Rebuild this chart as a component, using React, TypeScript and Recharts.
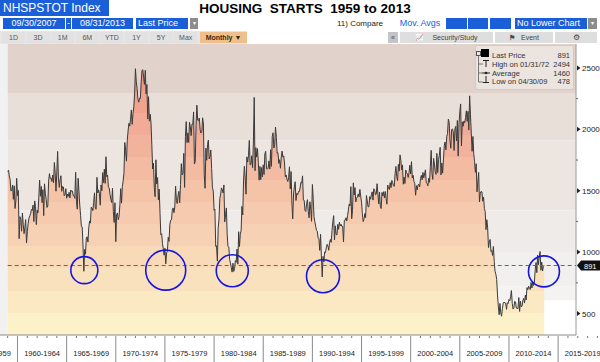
import React from 'react';
import { ComposedChart, Area, XAxis, YAxis, ReferenceArea, ReferenceLine, ReferenceDot } from 'recharts';

// ---------- DATA ----------
const startYear = 1959;
// Monthly housing starts (thousands, SAAR), Jan 1959 .. Aug 2013
const housingStarts: number[] = [
  1657, 1667, 1620, 1590, 1498, 1503, 1547, 1430, 1540, 1355, 1416, 1601, // 1959
  1460, 1503, 1109, 1289, 1266, 1170, 1318, 1227, 1150, 1202, 1265, 1074, // 1960
  1166, 1232, 1277, 1295, 1313, 1347, 1340, 1383, 1249, 1417, 1372, 1224, // 1961
  1342, 1320, 1443, 1586, 1455, 1535, 1403, 1509, 1297, 1556, 1479, 1430, // 1962
  1364, 1375, 1578, 1639, 1601, 1603, 1575, 1628, 1565, 1730, 1648, 1496, // 1963
  1654, 1820, 1603, 1527, 1589, 1622, 1495, 1535, 1531, 1459, 1469, 1517, // 1964
  1439, 1473, 1454, 1487, 1441, 1506, 1495, 1497, 1461, 1460, 1438, 1650, // 1965
  1412, 1350, 1602, 1498, 1384, 1300, 1209, 1205, 1049, 844, 1022, 983,   // 1966
  1116, 1125, 1082, 1198, 1254, 1236, 1365, 1360, 1338, 1405, 1483, 1354, // 1967
  1349, 1609, 1482, 1507, 1478, 1382, 1547, 1500, 1648, 1566, 1675, 1560, // 1968
  1777, 1615, 1627, 1528, 1523, 1468, 1427, 1404, 1520, 1330, 1242, 1402, // 1969
  1085, 1305, 1319, 1264, 1290, 1385, 1517, 1399, 1534, 1580, 1647, 1893, // 1970
  1828, 1741, 1910, 1986, 2049, 2026, 2083, 2158, 2041, 2128, 2182, 2295, // 1971
  2494, 2390, 2334, 2249, 2221, 2254, 2252, 2382, 2481, 2485, 2421, 2366, // 1972
  2481, 2289, 2365, 2084, 2266, 2067, 2123, 2051, 1874, 1677, 1724, 1526, // 1973
  1451, 1752, 1555, 1607, 1426, 1513, 1316, 1142, 1150, 1070, 1026, 975,  // 1974
  1032, 904, 993, 1005, 1121, 1087, 1226, 1260, 1264, 1344, 1360, 1321,   // 1975
  1367, 1538, 1421, 1395, 1459, 1495, 1401, 1550, 1720, 1629, 1641, 1804, // 1976
  1527, 1943, 2063, 1892, 1971, 1893, 2058, 2020, 1949, 2042, 2042, 2142, // 1977
  1718, 1738, 2032, 2197, 2075, 2070, 2092, 1996, 1970, 1981, 2094, 2044, // 1978
  1630, 1520, 1847, 1748, 1876, 1913, 1760, 1778, 1832, 1681, 1524, 1498, // 1979
  1341, 1350, 1047, 1051, 927, 1196, 1269, 1436, 1471, 1523, 1510, 1482,  // 1980
  1547, 1246, 1306, 1360, 1140, 1045, 1041, 940, 911, 873, 837, 910,      // 1981
  843, 866, 931, 917, 1025, 902, 1166, 1046, 1144, 1173, 1372, 1303,      // 1982
  1586, 1699, 1606, 1472, 1776, 1733, 1785, 1910, 1710, 1715, 1785, 1688, // 1983
  1897, 2260, 1663, 1851, 1774, 1843, 1732, 1586, 1698, 1590, 1689, 1612, // 1984
  1711, 1632, 1800, 1821, 1680, 1676, 1684, 1743, 1676, 1834, 1698, 1942, // 1985
  1972, 1848, 1876, 2019, 1934, 1806, 1810, 1723, 1753, 1683, 1776, 1823, // 1986
  1774, 1784, 1726, 1614, 1628, 1594, 1575, 1605, 1695, 1515, 1656, 1400, // 1987
  1271, 1473, 1532, 1573, 1421, 1478, 1467, 1493, 1492, 1522, 1569, 1563, // 1988
  1621, 1425, 1422, 1339, 1331, 1397, 1427, 1332, 1279, 1410, 1351, 1251, // 1989
  1551, 1437, 1289, 1248, 1212, 1177, 1171, 1115, 1110, 1014, 1145, 969,  // 1990
  798, 965, 921, 1001, 996, 1036, 1063, 1049, 1015, 1079, 1103, 1079,     // 1991
  1176, 1250, 1297, 1099, 1214, 1145, 1139, 1226, 1186, 1244, 1214, 1227, // 1992
  1210, 1210, 1083, 1258, 1260, 1280, 1254, 1300, 1343, 1392, 1376, 1533, // 1993
  1272, 1337, 1564, 1465, 1526, 1409, 1439, 1450, 1474, 1450, 1511, 1455, // 1994
  1407, 1316, 1249, 1267, 1314, 1281, 1461, 1416, 1369, 1369, 1452, 1431, // 1995
  1467, 1491, 1424, 1516, 1504, 1467, 1472, 1557, 1475, 1392, 1489, 1370, // 1996
  1355, 1486, 1457, 1492, 1442, 1494, 1437, 1390, 1546, 1520, 1510, 1566, // 1997
  1525, 1584, 1567, 1540, 1536, 1641, 1698, 1614, 1582, 1715, 1660, 1792, // 1998
  1748, 1670, 1710, 1553, 1611, 1559, 1669, 1648, 1635, 1608, 1648, 1708, // 1999
  1636, 1737, 1604, 1626, 1575, 1559, 1463, 1541, 1507, 1549, 1551, 1532, // 2000
  1600, 1625, 1590, 1649, 1605, 1636, 1670, 1567, 1562, 1540, 1602, 1568, // 2001
  1698, 1829, 1642, 1592, 1764, 1717, 1655, 1633, 1804, 1648, 1753, 1788, // 2002
  1853, 1629, 1726, 1643, 1751, 1867, 1897, 1833, 1939, 1967, 2083, 2057, // 2003
  1911, 1846, 1998, 2003, 1981, 1828, 2002, 2024, 1905, 2072, 1782, 2042, // 2004
  2144, 2207, 1864, 2061, 2025, 2068, 2054, 2095, 2151, 2065, 2147, 1994, // 2005
  2273, 2119, 1969, 1821, 1942, 1802, 1737, 1650, 1720, 1491, 1570, 1649, // 2006
  1409, 1480, 1495, 1490, 1415, 1448, 1354, 1330, 1183, 1264, 1197, 1037, // 2007
  1084, 1103, 1005, 1013, 973, 1046, 923, 844, 820, 777, 652, 560,        // 2008
  490, 582, 505, 478, 540, 585, 594, 586, 585, 534, 588, 581,             // 2009
  614, 604, 636, 687, 583, 536, 546, 599, 594, 543, 545, 539,             // 2010
  630, 517, 600, 554, 561, 608, 623, 585, 650, 610, 711, 694,             // 2011
  723, 704, 695, 753, 708, 757, 728, 750, 854, 915, 833, 976,             // 2012
  898, 969, 1005, 852, 919, 846, 883, 891,                                // 2013
];

const lastPrice = 891;
const legendLabels = ['Last Price', 'High on 01/31/72', 'Average', 'Low on 04/30/09'];
const legendValues = ['891', '2494', '1460', '478'];

const yMajorTicks = [500, 1000, 1500, 2000, 2500];
const yMinorTicks = [750, 1250, 1750, 2250];
const blockStartYears = [1955, 1960, 1965, 1970, 1975, 1980, 1985, 1990, 1995, 2000, 2005, 2010, 2015];

const troughTimes = [1966.8, 1975.08, 1981.85, 1991.08, 2013.56];
const troughValues = [853, 853, 848, 804, 843];

const bandFrom = [2290, 1910, 1340, 1000, 720, 608, 325];
const bandTo = [2695, 2290, 1910, 1340, 1000, 720, 608];

const rangeButtons = ['1D', '3D', '1M', '6M', 'YTD', '1Y', '5Y', 'Max'];

// ---------- STYLE ----------
const X_DOMAIN: [number, number] = [1958.22, 2016.82];
const Y_DOMAIN: [number, number] = [325, 2695];
const bandColors = ['#e1d3cb', '#e8dfd8', '#ece5e0', '#efebe8', '#f2f0ee', '#f4f3f1', '#f8f7f5'];
const troughRadii = [13.5, 20, 16, 16.5, 15.5];
const fillSteps = ['#ef9a88', '#f0a38f', '#f1ab96', '#f2b39c', '#f3bba2', '#f4c3a8', '#f5caae', '#f6d1b3', '#f8d9b8', '#fae1bd', '#fbe9c3', '#fdf1ca'];
const BLUE = '#1b5fd8';
const FONT = '"Liberation Sans", Arial, sans-serif';

const data = housingStarts.map((v, i) => ({ t: startYear + i / 12, v }));
const lastT = data[data.length - 1].t;

const xTicks: number[] = [];
for (let y = 1955; y <= 2019; y++) xTicks.push(y);
blockStartYears.forEach((b) => xTicks.push(b + 2.5));
xTicks.sort((a, b) => a - b);

const XTick = (props: any) => {
  const { x, y, payload } = props;
  const v = payload.value as number;
  if (!Number.isInteger(v)) {
    const s = v - 2.5;
    return (
      <text x={x} y={y + 21} textAnchor="middle" fontSize={7.5} fontFamily={FONT} fill="#222">
        {`${s}-${s + 4}`}
      </text>
    );
  }
  if (v % 5 === 0) {
    return <line x1={x} x2={x} y1={y + 1} y2={y + 27} stroke="#8a8a8a" strokeWidth={1} />;
  }
  return <line x1={x} x2={x} y1={y + 1} y2={y + 3} stroke="#777" strokeWidth={1} />;
};

const YTick = (props: any) => {
  const { x, y, payload } = props;
  const v = payload.value as number;
  if (v % 500 === 0) {
    return (
      <g>
        <path d={`M${x + 1},${y - 2.5}L${x + 4.5},${y}L${x + 1},${y + 2.5}Z`} fill="#222" />
        <text x={x + 6} y={y + 3} fontSize={8} fontFamily={FONT} fill="#222">{v}</text>
      </g>
    );
  }
  return <line x1={x} x2={x + 2} y1={y} y2={y} stroke="#666" strokeWidth={1} />;
};

const PriceTag = (props: any) => {
  const { cx, cy } = props;
  return (
    <g>
      <path d={`M${cx + 1},${cy}L${cx + 5},${cy - 5}L${cx + 24},${cy - 5}L${cx + 24},${cy + 5}L${cx + 5},${cy + 5}Z`} fill="#111" />
      <text x={cx + 8} y={cy + 3} fontSize={7.5} fontFamily={FONT} fill="#fff">{lastPrice}</text>
    </g>
  );
};

const Box = ({ left, top, width, height, bg, color = '#fff', children, fs = 9, align = 'center', bold = false }: any) => (
  <div
    style={{
      position: 'absolute', left, top, width, height, background: bg, color,
      fontFamily: FONT, fontSize: fs, lineHeight: `${height}px`, textAlign: align,
      overflow: 'hidden', whiteSpace: 'nowrap', fontWeight: bold ? 'bold' : 'normal', boxSizing: 'border-box',
    }}
  >
    {children}
  </div>
);

export default function App() {
  return (
    <div style={{ position: 'absolute', left: 0, top: 0, width: 600, height: 362, background: '#fff', overflow: 'hidden' }}>
      {/* Header row 1 */}
      <Box left={0} top={0} width={109} height={16} bg={BLUE} fs={12} align="left">
        <span style={{ paddingLeft: 3 }}>NHSPSTOT Index</span>
      </Box>
      <div style={{ position: 'absolute', left: 180, top: 1, width: 250, textAlign: 'center', fontFamily: FONT, fontWeight: 'bold', fontSize: 13.5, color: '#000', whiteSpace: 'pre' }}>
        HOUSING  STARTS  1959 to 2013
      </div>
      {/* Header row 2 */}
      <Box left={3} top={18} width={62} height={11} bg={BLUE} fs={9}>09/30/2007</Box>
      <Box left={66} top={18} width={5} height={11} bg={BLUE} fs={9}>-</Box>
      <Box left={72} top={18} width={61} height={11} bg={BLUE} fs={9}>08/31/2013</Box>
      <Box left={136} top={18} width={52} height={11} bg={BLUE} fs={9} align="left"><span style={{ paddingLeft: 2 }}>Last Price</span></Box>
      <Box left={190} top={18} width={8} height={11} bg="#8c8c8c" fs={6}>▾</Box>
      <Box left={330} top={18} width={60} height={11} bg="transparent" color="#222" fs={8}>11) Compare</Box>
      <Box left={396} top={18} width={48} height={11} bg="transparent" color={BLUE} fs={9}>Mov. Avgs</Box>
      <Box left={446} top={18} width={21} height={11} bg={BLUE}>{''}</Box>
      <Box left={468} top={18} width={20} height={11} bg={BLUE}>{''}</Box>
      <Box left={490} top={18} width={21} height={11} bg={BLUE}>{''}</Box>
      <Box left={515} top={18} width={72} height={11} bg={BLUE} fs={9} align="left"><span style={{ paddingLeft: 2 }}>No Lower Chart</span></Box>
      <Box left={588} top={18} width={9} height={11} bg="#8c8c8c" fs={6}>▾</Box>
      {/* Header row 3 */}
      <div style={{ position: 'absolute', left: 0, top: 31, width: 247, height: 13, background: '#e6e6e6' }} />
      {rangeButtons.map((b, i) => (
        <Box key={b} left={2 + i * 24.6} top={32} width={23} height={11} bg="#e2e2e2" color="#555" fs={7}>{b}</Box>
      ))}
      <Box left={200} top={32} width={47} height={11} bg="#f0c08c" color="#3a2a10" fs={7} bold>Monthly ▼</Box>
      <Box left={388} top={32} width={10} height={11} bg="#c4c4c4" color="#444" fs={7}>«</Box>
      <Box left={400} top={32} width={93} height={11} bg="#dedede" color="#444" fs={7}>
        <span style={{ marginRight: 8 }}>📈</span>Security/Study
      </Box>
      <Box left={495} top={32} width={58} height={11} bg="#dedede" color="#444" fs={7}>
        <span style={{ marginRight: 6, fontWeight: 'bold' }}>⚑</span>Event
      </Box>
      <Box left={555} top={32} width={42} height={11} bg="#dedede" color="#444" fs={8}>⚙</Box>

      {/* Chart */}
      <div style={{ position: 'absolute', left: 0, top: 0 }}>
        <ComposedChart width={600} height={362} data={data} margin={{ top: 44, right: 0, bottom: 0, left: 0 }}>
          <defs>
            <linearGradient id="fillBands" x1="0" y1="0" x2="0" y2="1">
              {fillSteps.map((c, i) => (
                <React.Fragment key={i}>
                  <stop offset={i / fillSteps.length} stopColor={c} />
                  <stop offset={(i + 1) / fillSteps.length} stopColor={c} />
                </React.Fragment>
              ))}
            </linearGradient>
          </defs>
          <XAxis
            dataKey="t"
            type="number"
            domain={X_DOMAIN}
            ticks={xTicks}
            interval={0}
            height={27}
            tickSize={0}
            tickMargin={0}
            tick={<XTick />}
            tickLine={false}
            axisLine={{ stroke: '#8a8a8a' }}
            allowDataOverflow
          />
          <YAxis
            orientation="right"
            type="number"
            domain={Y_DOMAIN}
            ticks={[...yMajorTicks, ...yMinorTicks].sort((a, b) => a - b)}
            interval={0}
            width={24}
            tickSize={0}
            tickMargin={0}
            tick={<YTick />}
            tickLine={false}
            axisLine={{ stroke: '#9a9a9a' }}
            allowDataOverflow
          />
          <ReferenceArea x1={X_DOMAIN[0]} x2={startYear} y1={Y_DOMAIN[0]} y2={Y_DOMAIN[1]} fill="#f1f1f1" fillOpacity={1} stroke="none" />
          {bandFrom.map((f, i) => (
            <ReferenceArea
              key={i}
              x1={startYear}
              x2={i === bandFrom.length - 1 ? lastT : X_DOMAIN[1]}
              y1={f}
              y2={bandTo[i]}
              fill={bandColors[i]}
              fillOpacity={1}
              stroke="none"
            />
          ))}
          <Area
            type="linear"
            dataKey="v"
            stroke="#3a3a3a"
            strokeWidth={1}
            fill="url(#fillBands)"
            fillOpacity={1}
            dot={false}
            activeDot={false}
            isAnimationActive={false}
          />
          <ReferenceLine
            segment={[{ x: startYear, y: lastPrice }, { x: X_DOMAIN[1], y: lastPrice }]}
            stroke="#666"
            strokeDasharray="4 3"
            strokeWidth={1}
          />
          {troughTimes.map((t, i) => (
            <ReferenceDot key={i} x={t} y={troughValues[i]} r={troughRadii[i]} fill="none" stroke="#1515e0" strokeWidth={1.6} />
          ))}
          <ReferenceDot x={X_DOMAIN[1]} y={lastPrice} r={1} shape={<PriceTag />} />
        </ComposedChart>
      </div>

      {/* Legend box */}
      <svg style={{ position: 'absolute', left: 475, top: 45 }} width={99} height={45}>
        <rect x={0.5} y={0.5} width={98} height={44} fill="#ebe4df" stroke="#d3cac4" rx={2} />
        <rect x={1.5} y={6.5} width={4} height={4} fill="none" stroke="#555" />
        <rect x={6} y={4} width={8} height={8} fill="#000" />
        <line x1={3.5} x2={3.5} y1={11} y2={37} stroke="#777" />
        <line x1={3.5} x2={8} y1={19} y2={19} stroke="#777" />
        <line x1={3.5} x2={7} y1={28} y2={28} stroke="#777" />
        <line x1={3.5} x2={8} y1={37} y2={37} stroke="#777" />
        <line x1={8} x2={14} y1={15.5} y2={15.5} stroke="#222" />
        <line x1={11} x2={11} y1={15.5} y2={22} stroke="#222" />
        <line x1={7} x2={15} y1={28} y2={28} stroke="#222" />
        <circle cx={11} cy={28} r={1.3} fill="#222" />
        <line x1={11} x2={11} y1={31} y2={37.5} stroke="#222" />
        <line x1={8} x2={14} y1={37.5} y2={37.5} stroke="#222" />
        {legendLabels.map((l, i) => (
          <text key={l} x={17} y={13 + i * 8.8} fontSize={7.5} fontFamily={FONT} fill="#333">{l}</text>
        ))}
        {legendValues.map((v, i) => (
          <text key={v} x={95} y={13 + i * 8.8} fontSize={7.5} fontFamily={FONT} fill="#333" textAnchor="end">{v}</text>
        ))}
      </svg>
    </div>
  );
}
